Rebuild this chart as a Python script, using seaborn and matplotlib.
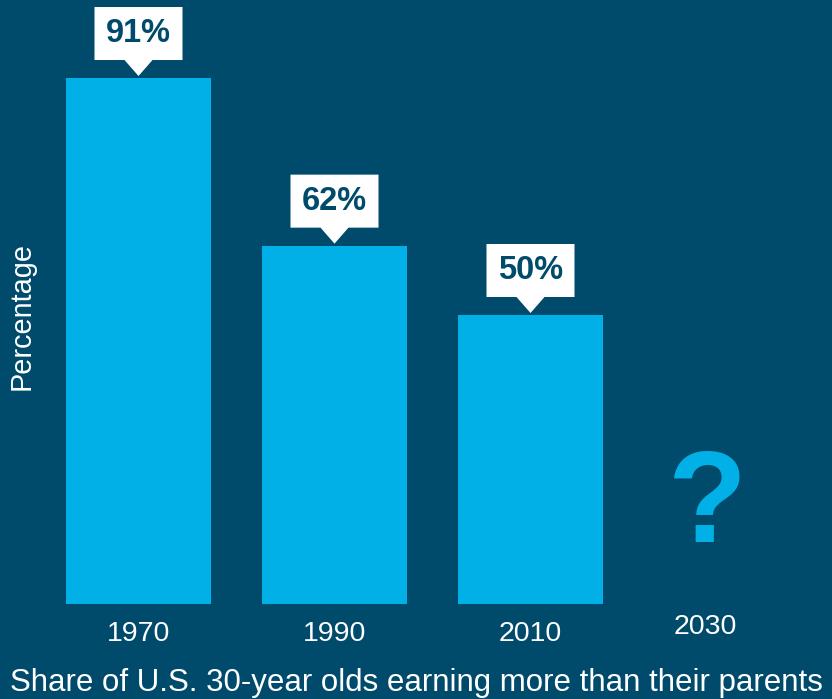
import matplotlib
matplotlib.use("Agg")
import matplotlib.pyplot as plt
import matplotlib.transforms as mtransforms
from matplotlib.patches import Polygon
import seaborn as sns
import pandas as pd

years = ["1970", "1990", "2010", "2030"]
bar_years = ["1970", "1990", "2010"]
shares = [91, 62, 50]
value_labels = ["91%", "62%", "50%"]
x_title = "Share of U.S. 30-year olds earning more than their parents"
y_title = "Percentage"

BG = "#004b6c"
BAR = "#00b0e6"
W, H = 832, 699

sns.set_theme(style="white")
plt.rcParams["font.family"] = ["Liberation Sans", "DejaVu Sans"]

fig = plt.figure(figsize=(W / 100, H / 100), dpi=100, facecolor=BG)
ax = fig.add_axes([0, (H - 604) / H, 1, 604 / H])
ax.set_facecolor(BG)

df = pd.DataFrame({"year": bar_years, "share": shares})
sns.barplot(data=df, x="year", y="share", order=years, color=BAR,
            width=0.74, saturation=1, ax=ax, edgecolor="none")

ax.set_xlim(-138.5 / 196, (W - 138.5) / 196)
ax.set_ylim(0, 604 / 5.78)
for s in ax.spines.values():
    s.set_visible(False)
ax.tick_params(axis="both", length=0)
ax.set_yticks([])
ax.set_xticks(range(len(years)))
ax.set_xticklabels(years, color="white", fontsize=20.5)
ax.tick_params(axis="x", pad=12)
last = ax.get_xticklabels()[-1]
last.set_transform(last.get_transform() +
                   mtransforms.ScaledTranslation(-21 / 100, 7 / 100, fig.dpi_scale_trans))

ax.set_xlabel(x_title, color="white", fontsize=22.5)
ax.xaxis.label.set_va("center")
ax.xaxis.set_label_coords(0.5, -(683 - 604) / 604)
ax.set_ylabel(y_title, color="white", fontsize=20.8)
ax.yaxis.label.set_va("center")
ax.yaxis.set_label_coords(22 / W, (604 - 316) / 604)

# callout labels
fig.canvas.draw()
for i, (v, lab) in enumerate(zip(shares, value_labels)):
    px, py = ax.transData.transform((i, v))
    tip = py + 2
    base = py + 18
    top = base + 53
    hw = 44
    aw = 14
    pts = [(px - hw, base), (px - aw, base), (px, tip), (px + aw, base),
           (px + hw, base), (px + hw, top), (px - hw, top)]
    poly = Polygon(pts, closed=True, facecolor="white", edgecolor="none",
                   transform=mtransforms.IdentityTransform(), clip_on=False)
    fig.patches.append(poly)
    poly.set_figure(fig)
    fig.text(px / W, (base + 26.5) / H, lab, ha="center", va="center",
             color=BG, fontsize=23.5, fontweight="bold")

qx, _ = ax.transData.transform((3, 0))
fig.text((qx - 20) / W, (H - 508) / H, "?", ha="center", va="center",
         color=BAR, fontsize=93, fontweight="bold")

fig.savefig("out.png", dpi=100, facecolor=BG)
